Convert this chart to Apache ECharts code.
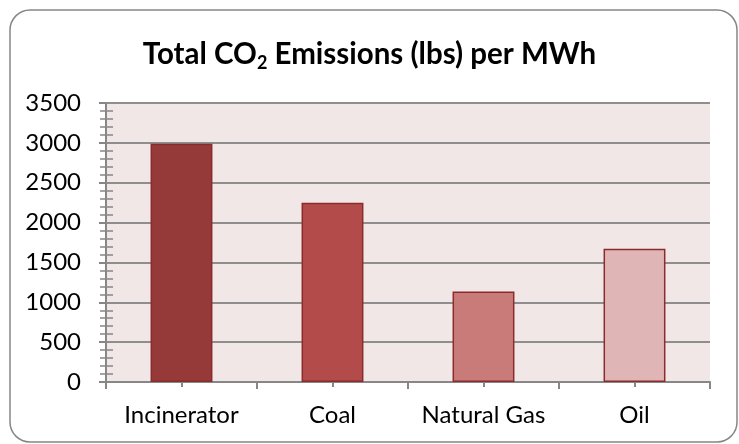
<!DOCTYPE html>
<html><head><meta charset="utf-8">
<script src="https://cdn.jsdelivr.net/npm/echarts@6/dist/echarts.min.js"></script>
<style>html,body{margin:0;padding:0;background:#fff}#c{width:739px;height:444px}</style>
</head><body><div id="c"></div>
<script>
const categories = ['Incinerator', 'Coal', 'Natural Gas', 'Oil'];
const values = [2988, 2249, 1135, 1672];
const barColors = ['#953a39', '#b34b4a', '#c97b7a', '#dfb5b6'];
const yMin = 0, yMax = 3500, yInterval = 500;

const font = 'Lato, "Open Sans", sans-serif';
const grid = {left: 106, right: 29, top: 103, bottom: 62};
const axisGray = '#878787';

const chart = echarts.init(document.getElementById('c'), null, {renderer: 'canvas'});
chart.setOption({
  animation: false,
  backgroundColor: '#ffffff',
  title: {
    text: 'Total CO{sub|2} Emissions (lbs) per MWh',
    left: 'center', top: 31,
    textStyle: {
      fontFamily: font, fontSize: 29.5, fontWeight: 'bold', color: '#000',
      rich: {sub: {fontFamily: font, fontSize: 18, fontWeight: 'bold', color: '#000', padding: [18, 0, 0, 0]}}
    }
  },
  graphic: [{
    type: 'rect', silent: true, z: -10,
    shape: {x: 10, y: 10, width: 727, height: 432, r: 20},
    style: {fill: 'none', stroke: '#868686', lineWidth: 1.5}
  }],
  grid: Object.assign({backgroundColor: '#f2e7e7', show: true, borderWidth: 0}, grid),
  xAxis: [{
    type: 'category', data: categories, position: 'bottom',
    axisLine: {lineStyle: {color: axisGray, width: 2}},
    axisTick: {show: true, length: 7, lineStyle: {color: axisGray, width: 2}},
    axisLabel: {fontFamily: font, fontSize: 24, color: '#000', margin: 21, interval: 0}
  }, {
    type: 'category', data: categories, position: 'bottom', gridIndex: 0,
    axisLine: {show: false},
    axisTick: {show: true, alignWithLabel: true, inside: true, length: 6, lineStyle: {color: axisGray, width: 2}},
    axisLabel: {show: false}
  }, {
    type: 'category', data: categories, position: 'bottom', gridIndex: 0,
    axisLine: {show: false},
    axisTick: {show: true, alignWithLabel: true, length: 5, lineStyle: {color: axisGray, width: 2}},
    axisLabel: {show: false}
  }],
  yAxis: [{
    type: 'value', min: yMin, max: yMax, interval: yInterval,
    axisLine: {show: true, lineStyle: {color: axisGray, width: 2}},
    axisTick: {show: true, length: 7, lineStyle: {color: axisGray, width: 2}},
    minorTick: {show: true, splitNumber: 5, length: 6, lineStyle: {color: axisGray, width: 1.5}},
    splitLine: {show: true, lineStyle: {color: '#8e8e8e', width: 2}},
    axisLabel: {fontFamily: font, fontSize: 24, color: '#000', margin: 25, formatter: v => String(v)}
  }, {
    type: 'value', min: yMin, max: yMax, interval: yInterval, position: 'left',
    axisLine: {show: false},
    axisTick: {show: false, inside: true},
    minorTick: {show: true, splitNumber: 5, length: 7, lineStyle: {color: axisGray, width: 1.5}},
    splitLine: {show: false},
    axisLabel: {show: false}
  }],
  series: [{
    type: 'bar', xAxisIndex: 0, yAxisIndex: 0,
    data: values.map((v, i) => ({value: v, itemStyle: {color: barColors[i]}})),
    barWidth: '41%',
    itemStyle: {borderColor: '#8a2c2b', borderWidth: 1.5},
    z: 2
  }]
});
</script></body></html>
